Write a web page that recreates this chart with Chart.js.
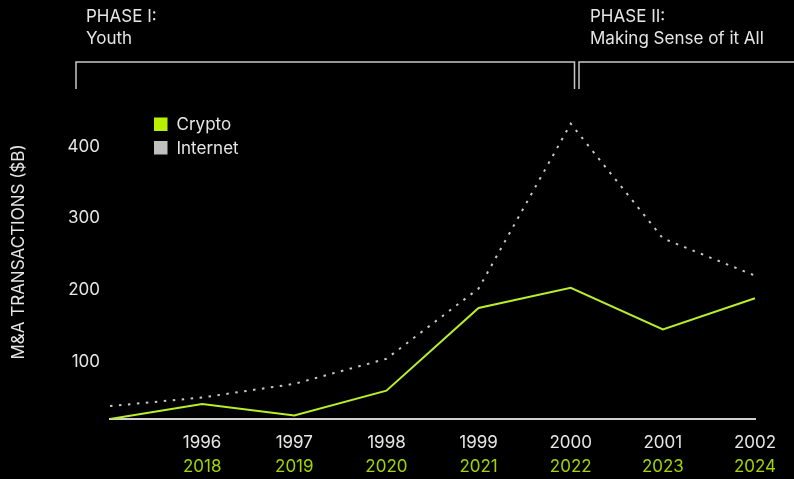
<!DOCTYPE html>
<html>
<head>
<meta charset="utf-8">
<script src="https://cdn.jsdelivr.net/npm/chart.js@4"></script>
<style>
  html, body { margin: 0; padding: 0; background: #000; }
  #wrap { width: 794px; height: 479px; }
</style>
</head>
<body>
<div id="wrap"><canvas id="maChart"></canvas></div>
<script>
// --- Data ---
const internetYears = ["", "1996", "1997", "1998", "1999", "2000", "2001", "2002"];
const cryptoYears = ["", "2018", "2019", "2020", "2021", "2022", "2023", "2024"];
const cryptoValues = [20, 41, 25, 59.5, 175, 203, 145, 188.5];
const internetValues = [38, 50, 69, 104, 202, 432, 272, 220];
const yTickValues = [100, 200, 300, 400];
const phases = [
  { title: "PHASE I:", subtitle: "Youth" },
  { title: "PHASE II:", subtitle: "Making Sense of it All" }
];

const FONT = "Inter, 'Noto Sans', sans-serif";
const LIME = "#b8ee2a";
const LIME_LABEL = "#a2d400";
const GREY = "#c8c8c8";
const TEXT = "#e6e6e6";

// --- Phase brackets, legend ---
const overlay = {
  id: "overlay",
  afterDraw(chart) {
    const c = chart.ctx;
    c.save();
    c.font = "17px " + FONT;
    c.fillStyle = TEXT;
    c.textBaseline = "alphabetic";
    c.textAlign = "left";

    // phase headings
    const textX = [86, 590];
    phases.forEach((p, i) => {
      c.fillText(p.title, textX[i], 22);
      c.fillText(p.subtitle, textX[i], 44);
    });

    // brackets
    c.strokeStyle = GREY;
    c.lineWidth = 1.5;
    c.beginPath();
    c.moveTo(76, 89); c.lineTo(76, 62); c.lineTo(574.5, 62); c.lineTo(574.5, 89);
    c.moveTo(579, 89); c.lineTo(579, 62); c.lineTo(794, 62);
    c.stroke();

    // legend
    const items = chart.data.datasets.map(ds => ({ label: ds.label, color: ds.legendColor }));
    items.forEach((it, i) => {
      const y = 117.5 + i * 23.5;
      c.fillStyle = it.color;
      c.fillRect(154, y, 13.5, 13.5);
      c.fillStyle = TEXT;
      c.textBaseline = "middle";
      c.fillText(it.label, 176.5, y + 7.5);
    });
    c.restore();
  }
};

const ctx = document.getElementById("maChart").getContext("2d");
new Chart(ctx, {
  type: "line",
  data: {
    labels: internetYears,
    datasets: [
      {
        label: "Crypto",
        data: cryptoValues,
        borderColor: LIME,
        legendColor: "#b8f000",
        borderWidth: 2,
        pointRadius: 0,
        tension: 0,
        fill: false,
        order: 0
      },
      {
        label: "Internet",
        data: internetValues,
        borderColor: GREY,
        legendColor: "#c0c0c0",
        borderWidth: 2,
        borderDash: [2.5, 6.5],
        pointRadius: 0,
        tension: 0,
        fill: false,
        order: 1
      }
    ]
  },
  options: {
    responsive: true,
    maintainAspectRatio: false,
    animation: false,
    layout: { padding: { top: 85, right: 39, left: 0, bottom: 0 } },
    plugins: {
      legend: { display: false },
      tooltip: { enabled: false }
    },
    scales: {
      x: {
        type: "category",
        position: "bottom",
        offset: false,
        grid: { display: false, drawTicks: false },
        border: { display: true, color: "#d0d0d0", width: 2 },
        afterFit: axis => { axis.height = 31; },
        ticks: {
          color: TEXT,
          padding: 14,
          maxRotation: 0,
          autoSkip: false,
          font: { family: FONT, size: 17 }
        }
      },
      x2: {
        type: "category",
        position: "bottom",
        labels: cryptoYears,
        offset: false,
        grid: { display: false, drawTicks: false },
        border: { display: false },
        afterFit: axis => { axis.height = 29; },
        ticks: {
          color: LIME_LABEL,
          padding: 7,
          maxRotation: 0,
          autoSkip: false,
          font: { family: FONT, size: 17 }
        }
      },
      y: {
        min: 20,
        max: 486,
        grid: { display: false, drawTicks: false },
        border: { display: false },
        afterBuildTicks: axis => { axis.ticks = yTickValues.map(v => ({ value: v })); },
        afterFit: axis => { axis.width = 110; },
        title: {
          display: true,
          text: "M&A TRANSACTIONS ($B)",
          color: TEXT,
          padding: { top: 9, bottom: 0 },
          font: { family: FONT, size: 17 }
        },
        ticks: {
          color: TEXT,
          padding: 10,
          font: { family: FONT, size: 17 }
        }
      }
    }
  },
  plugins: [overlay]
});
</script>
</body>
</html>
